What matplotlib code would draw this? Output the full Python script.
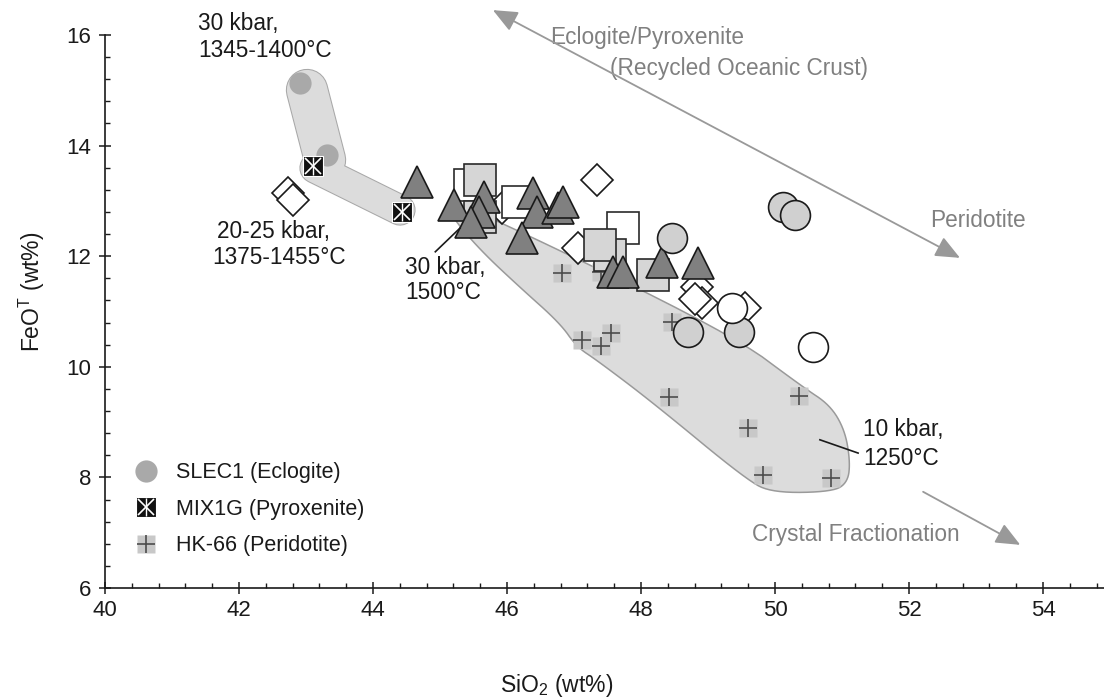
import numpy as np
import matplotlib
matplotlib.use("Agg")
import matplotlib.pyplot as plt
from matplotlib.lines import Line2D
from matplotlib.patches import Polygon
from matplotlib.ticker import MultipleLocator
from matplotlib.legend_handler import HandlerTuple

plt.rcParams['font.family'] = ['Liberation Sans', 'DejaVu Sans']
plt.rcParams['mathtext.default'] = 'regular'

# ---------------- data ----------------
slec1_x = [42.91, 43.31]
slec1_y = [15.13, 13.83]
mix1g_x = [43.10, 44.43]
mix1g_y = [13.63, 12.80]
hk66_x = [46.82, 47.40, 48.46, 47.12, 47.55, 47.40, 48.42, 50.36, 49.60, 49.82, 50.84]
hk66_y = [11.70, 11.71, 10.81, 10.48, 10.61, 10.38, 9.45, 9.47, 8.89, 8.04, 7.99]

# other experiments (open / grey symbols)
diam_x = [42.73, 42.81, 47.34, 45.93, 47.06, 48.84, 48.91, 48.80, 49.55]
diam_y = [13.14, 13.02, 13.38, 12.87, 12.15, 11.45, 11.15, 11.22, 11.06]
wsq_x = [45.45, 46.16, 47.73]
wsq_y = [13.29, 12.98, 12.51]
gsq_x = [45.60, 45.60, 47.54, 47.39, 48.18]
gsq_y = [12.71, 13.38, 12.02, 12.20, 11.66]
tri_x = [44.66, 45.21, 45.66, 45.58, 45.46, 46.39, 46.45, 46.22, 46.76, 46.84,
         47.58, 47.73, 48.31, 48.85]
tri_y = [13.34, 12.93, 13.07, 12.80, 12.62, 13.14, 12.80, 12.33, 12.87, 12.98,
         11.71, 11.71, 11.90, 11.88]
gcirc_x = [48.46, 48.70, 49.46, 50.12, 50.30]
gcirc_y = [12.33, 10.63, 10.63, 12.89, 12.75]
wcirc_x = [49.36, 50.57]
wcirc_y = [11.06, 10.36]

# outline of the 10-30 kbar HK-66 field and the high-pressure tubes
field_x = [45.18, 45.60, 49.33, 50.42, 50.82, 51.04, 51.12, 51.09, 50.87, 49.97,
           49.58, 48.18, 47.34, 47.04, 46.79, 46.19, 45.60, 45.15]
field_y = [12.93, 12.80, 10.61, 9.63, 9.31, 8.86, 8.31, 7.92, 7.74, 7.72,
           7.95, 9.35, 10.12, 10.36, 10.79, 11.44, 12.11, 12.75]
tube1_x = [43.015, 43.284]
tube1_y = [15.005, 13.74]
tube2_x = [43.134, 44.403]
tube2_y = [13.595, 12.835]

xticks = [40, 42, 44, 46, 48, 50, 52, 54]
yticks = [6, 8, 10, 12, 14, 16]

# ---------------- figure ----------------
fig = plt.figure(figsize=(11.04, 7.0), dpi=100)
ax = fig.add_axes([0.0951, 0.16, 0.9049, 0.79])
ax.set_xlim(40, 54.91)
ax.set_ylim(6, 16)

for s in ['top', 'right']:
    ax.spines[s].set_visible(False)
for s in ['left', 'bottom']:
    ax.spines[s].set_linewidth(1.2)
    ax.spines[s].set_color('#1a1a1a')

ax.set_xticks(xticks)
ax.set_yticks(yticks)
ax.xaxis.set_minor_locator(MultipleLocator(0.4))
ax.yaxis.set_minor_locator(MultipleLocator(0.4))
ax.tick_params(which='major', direction='inout', length=8, width=1.1, labelsize=16,
               colors='#1a1a1a')
ax.tick_params(which='minor', direction='in', length=3.5, width=1.0, colors='#1a1a1a')
ax.tick_params(axis='x', which='major', pad=5)
ax.tick_params(axis='y', which='major', pad=6)

ax.set_xlabel('SiO$_2$ (wt%)', fontsize=16.5, color='#1a1a1a')
ax.xaxis.set_label_coords(0.4525, -0.177)
ax.xaxis.label.set_va('center')
ax.set_ylabel('FeO$^{T}$ (wt%)', fontsize=16.5, color='#1a1a1a')
ax.yaxis.set_label_coords(-0.073, 0.535)
ax.yaxis.label.set_va('center')


def chaikin(xs, ys, n=3):
    pts = np.column_stack([xs, ys])
    for _ in range(n):
        nxt = np.roll(pts, -1, axis=0)
        q = 0.75 * pts + 0.25 * nxt
        r = 0.25 * pts + 0.75 * nxt
        pts = np.empty((2 * len(q), 2))
        pts[0::2] = q
        pts[1::2] = r
    return pts

field = Polygon(chaikin(field_x, field_y), closed=True, facecolor='#dcdcdc',
                edgecolor='#9a9a9a', lw=1.1, zorder=1)
ax.add_patch(field)

# high-pressure tubes (outline then fill)
ax.plot(tube1_x, tube1_y, color='#a8a8a8', lw=30.5, solid_capstyle='round', zorder=1)
ax.plot(tube2_x, tube2_y, color='#a8a8a8', lw=22.5, solid_capstyle='round', zorder=1)
ax.plot(tube1_x, tube1_y, color='#dcdcdc', lw=29, solid_capstyle='round', zorder=1.1)
ax.plot(tube2_x, tube2_y, color='#dcdcdc', lw=21, solid_capstyle='round', zorder=1.1)

# HK-66 crosses
ax.plot(hk66_x, hk66_y, ls='none', marker='s', ms=13, mfc='#c8c8c8', mec='none',
        zorder=2)
ax.plot(hk66_x, hk66_y, ls='none', marker='+', ms=12.5, mew=1.2, color='#4d4d4d',
        zorder=2.1)

# other experiments
ax.plot(diam_x, diam_y, ls='none', marker='D', ms=16, mfc='white', mec='#1a1a1a',
        mew=1.2, zorder=3)
ax.plot(wsq_x, wsq_y, ls='none', marker='s', ms=23, mfc='white', mec='#2a2a2a',
        mew=1.2, zorder=3.1)
ax.plot(gsq_x, gsq_y, ls='none', marker='s', ms=23, mfc='#d6d6d6', mec='#2a2a2a',
        mew=1.2, zorder=3.2)
ax.plot(tri_x, tri_y, ls='none', marker='^', ms=23.5, mfc='#808080', mec='#1a1a1a',
        mew=1.2, zorder=3.3)
ax.plot(gcirc_x, gcirc_y, ls='none', marker='o', ms=21.5, mfc='#d0d0d0', mec='#1a1a1a',
        mew=1.2, zorder=3.4)
ax.plot(wcirc_x, wcirc_y, ls='none', marker='o', ms=21.5, mfc='white', mec='#1a1a1a',
        mew=1.2, zorder=3.4)

# SLEC1 and MIX1G
ax.plot(slec1_x, slec1_y, ls='none', marker='o', ms=16, mfc='#a9a9a9', mec='none',
        zorder=4)
ax.plot(mix1g_x, mix1g_y, ls='none', marker='s', ms=14, mfc='#111111', mec='white',
        mew=0.8, zorder=4)
ax.plot(mix1g_x, mix1g_y, ls='none', marker='x', ms=11, mew=1.2, color='white',
        zorder=4.1)
ax.plot(mix1g_x, mix1g_y, ls='none', marker='|', ms=13, mew=1.0, color='white',
        zorder=4.1)

# arrows
arrow_grey = '#999999'
ax.annotate('', xy=(45.79, 16.45), xytext=(52.76, 11.97),
            arrowprops=dict(arrowstyle='<|-|>,head_length=1.5,head_width=0.65',
                            color=arrow_grey, lw=1.3, shrinkA=0, shrinkB=0),
            annotation_clip=False, zorder=5)
ax.annotate('', xy=(53.66, 6.78), xytext=(52.21, 7.74),
            arrowprops=dict(arrowstyle='-|>,head_length=1.5,head_width=0.65',
                            color=arrow_grey, lw=1.3, shrinkA=0, shrinkB=0),
            annotation_clip=False, zorder=5)

tfs = 16.3
grey_txt = '#808080'
ax.text(46.64, 15.95, 'Eclogite/Pyroxenite', fontsize=tfs, color=grey_txt,
        ha='left', va='center', clip_on=False)
ax.text(47.54, 15.40, '(Recycled Oceanic Crust)', fontsize=tfs, color=grey_txt,
        ha='left', va='center', clip_on=False)
ax.text(52.31, 12.65, 'Peridotite', fontsize=tfs, color=grey_txt, ha='left', va='center')
ax.text(49.66, 6.96, 'Crystal Fractionation', fontsize=tfs, color=grey_txt,
        ha='left', va='center')

blk = '#1a1a1a'
ax.text(41.39, 16.20, '30 kbar,', fontsize=tfs, color=blk, ha='left', va='center',
        clip_on=False)
ax.text(41.39, 15.72, '1345-1400°C', fontsize=tfs, color=blk, ha='left', va='center')
ax.text(41.67, 12.44, '20-25 kbar,', fontsize=tfs, color=blk, ha='left', va='center')
ax.text(41.60, 11.97, '1375-1455°C', fontsize=tfs, color=blk, ha='left', va='center')
ax.text(44.48, 11.80, '30 kbar,', fontsize=tfs, color=blk, ha='left', va='center')
ax.text(44.48, 11.34, '1500°C', fontsize=tfs, color=blk, ha='left', va='center')
ax.text(51.31, 8.86, '10 kbar,', fontsize=tfs, color=blk, ha='left', va='center')
ax.text(51.31, 8.35, '1250°C', fontsize=tfs, color=blk, ha='left', va='center')
ax.plot([44.93, 45.30], [12.08, 12.51], color=blk, lw=1.2, zorder=5)
ax.plot([50.67, 51.24], [8.68, 8.44], color=blk, lw=1.2, zorder=5)

# legend
h1 = Line2D([], [], ls='none', marker='o', ms=16, mfc='#a9a9a9', mec='none')
h2 = (Line2D([], [], ls='none', marker='s', ms=14, mfc='#111111', mec='white', mew=0.8),
      Line2D([], [], ls='none', marker='x', ms=11, mew=1.2, color='white'),
      Line2D([], [], ls='none', marker='|', ms=13, mew=1.0, color='white'))
h3 = (Line2D([], [], ls='none', marker='s', ms=13, mfc='#c8c8c8', mec='none'),
      Line2D([], [], ls='none', marker='+', ms=12.5, mew=1.2, color='#4d4d4d'))
leg = ax.legend([h1, h2, h3],
                ['SLEC1 (Eclogite)', 'MIX1G (Pyroxenite)', 'HK-66 (Peridotite)'],
                handler_map={tuple: HandlerTuple(ndivide=1)},
                loc='upper left', bbox_to_anchor=(0.02, 0.243), frameon=False,
                fontsize=15.5, handlelength=1.2, handletextpad=0.75, labelspacing=0.72,
                borderaxespad=0, labelcolor=blk)

fig.savefig('out.png', dpi=100)
